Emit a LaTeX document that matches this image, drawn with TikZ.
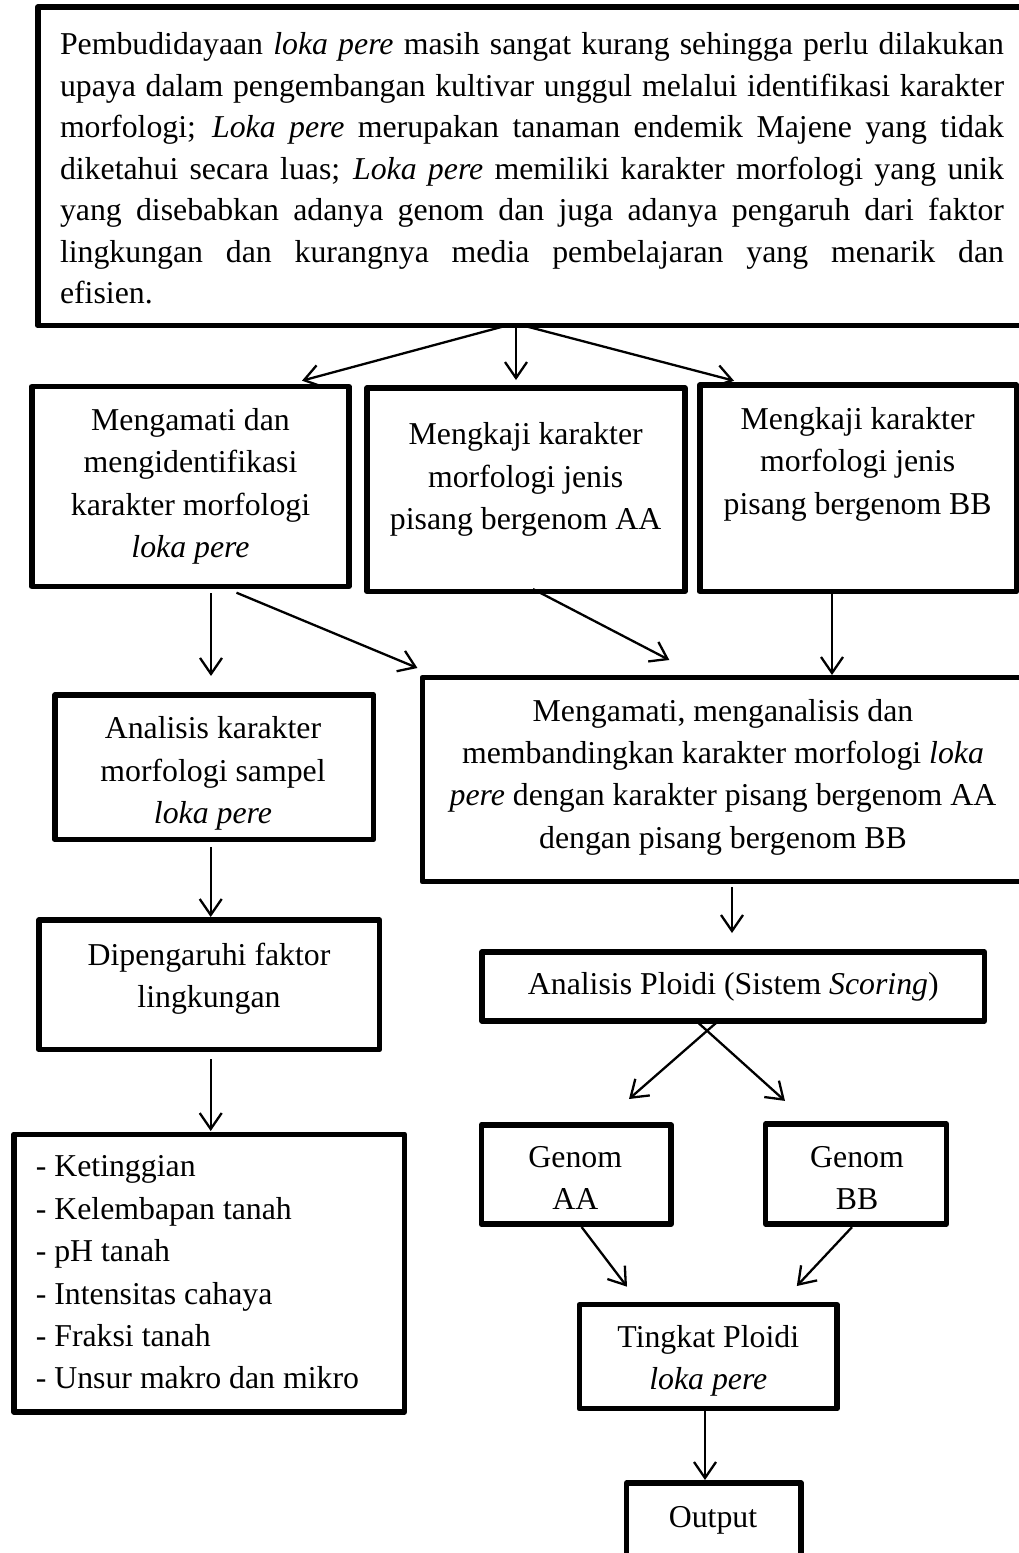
\documentclass[tikz,border=0pt]{standalone}
\usepackage{fontspec}
\setmainfont{Liberation Serif}
\usetikzlibrary{arrows.meta}
\begin{document}
\begin{tikzpicture}[x=1pt,y=-1pt,
  box/.style={draw, line width=5.5pt, line join=round, inner sep=0pt, outer sep=0pt},
  txt/.style={inner sep=0pt, align=center, font=\fontsize{31.8}{42.4}\selectfont},
  arr/.style={line width=2.3pt, -{Straight Barb[length=16pt,width=22pt]}}]
\useasboundingbox (0,0) rectangle (1019,1553);

% boxes
\node[box, minimum width=988.3pt, minimum height=318.5pt] (top) at (531.9,166.25) {};
\node[box, minimum width=317.2pt, minimum height=199.6pt] (b1) at (190.4,486.5) {};
\node[box, minimum width=317.8pt, minimum height=203.3pt] (b2) at (525.9,489.7) {};
\node[box, minimum width=316.9pt, minimum height=206.3pt] (b3) at (858.2,488.2) {};
\node[box, minimum width=318.6pt, minimum height=144.7pt] (c1) at (214.3,767.3) {};
\node[box, minimum width=602.7pt, minimum height=204.2pt] (c2) at (723.6,779.6) {};
\node[box, minimum width=340.5pt, minimum height=129.7pt] (d1) at (209.25,984.85) {};
\node[box, minimum width=502.4pt, minimum height=68.8pt] (d2) at (733.2,986.4) {};
\node[box, minimum width=189.9pt, minimum height=99.2pt] (e1) at (576.25,1174.6) {};
\node[box, minimum width=180.8pt, minimum height=100pt] (e2) at (856,1174.1) {};
\node[box, minimum width=257.7pt, minimum height=104pt] (f) at (708.15,1356.7) {};
\node[box, minimum width=174.3pt, minimum height=117pt] (g) at (713.85,1541.5) {};
\node[box, minimum width=390.6pt, minimum height=277.5pt] (h) at (209.2,1273) {};

% texts
\node[txt, text width=944pt, align=justify, font=\fontsize{31.8}{41.5}\selectfont] (t0) at (532,168.5)
{\tolerance=10000 \hyphenpenalty=10000 Pembudidayaan \textit{loka pere} masih sangat kurang sehingga perlu dilakukan\linebreak
upaya dalam pengembangan kultivar unggul melalui identifikasi karakter\linebreak
morfologi; \textit{Loka pere} merupakan tanaman endemik Majene yang tidak\linebreak
diketahui secara luas; \textit{Loka pere} memiliki karakter morfologi yang unik\linebreak
yang disebabkan adanya genom dan juga adanya pengaruh dari faktor\linebreak
lingkungan dan kurangnya media pembelajaran yang menarik dan\linebreak
efisien.};
\node[txt] (t1) at (190.5,486.5) {Mengamati dan\\mengidentifikasi\\karakter morfologi\\\textit{loka pere}};
\node[txt] (t2) at (525.7,479.5) {Mengkaji karakter\\morfologi jenis\\pisang bergenom AA};
\node[txt] (t3) at (857.7,464) {Mengkaji karakter\\morfologi jenis\\pisang bergenom BB};
\node[txt] (t4) at (213,773.5) {Analisis karakter\\morfologi sampel\\\textit{loka pere}};
\node[txt] (t5) at (723,777) {Mengamati, menganalisis dan\\membandingkan karakter morfologi \textit{loka}\\\textit{pere} dengan karakter pisang bergenom AA\\dengan pisang bergenom BB};
\node[txt] (t6) at (209,978.5) {Dipengaruhi faktor\\lingkungan};
\node[txt] (t7) at (733.3,986.5) {Analisis Ploidi (Sistem \textit{Scoring})};
\node[txt] (t8) at (575.3,1178) {Genom\\AA};
\node[txt] (t9) at (857,1178) {Genom\\BB};
\node[txt] (t10) at (708.3,1361) {Tingkat Ploidi\\\textit{loka pere}};
\node[txt] (t11) at (713,1520.5) {Output};
\node[txt, align=left, anchor=west] (t12) at (35.6,1272.5) {- Ketinggian\\- Kelembapan tanah\\- pH tanah\\- Intensitas cahaya\\- Fraksi tanah\\- Unsur makro dan mikro};

% connectors
\draw[arr] ([xshift=-25pt]top.south) -- ([xshift=111.6pt,yshift=6pt]b1.north);
\draw[arr] ([xshift=-15.9pt]top.south) -- ([xshift=-9.9pt,yshift=8pt]b2.north);
\draw[arr] ([xshift=-8.9pt]top.south) -- ([xshift=-124.2pt,yshift=4.3pt]b3.north);
\draw[arr] ([xshift=20.6pt,yshift=-6.7pt]b1.south) -- ([xshift=-3.3pt,yshift=19pt]c1.north);
\draw[arr] ([xshift=46.1pt,yshift=-6.4pt]b1.south) -- ([xshift=-4.8pt,yshift=9.5pt]c2.north west);
\draw[arr] ([xshift=7.1pt,yshift=2.3pt]b2.south) -- ([xshift=-54.3pt,yshift=17.5pt]c2.north);
\draw[arr] ([xshift=-26.2pt,yshift=-1.7pt]b3.south) -- ([xshift=108.4pt,yshift=2.5pt]c2.north);
\draw[arr] ([xshift=-3.6pt,yshift=-7.3pt]c1.south) -- ([xshift=1.45pt,yshift=3pt]d1.north);
\draw[arr] ([xshift=1.45pt,yshift=-9.3pt]d1.south) -- ([xshift=1.5pt,yshift=3.2pt]h.north);
\draw[arr] ([xshift=8.4pt,yshift=-5.3pt]c2.south) -- ([xshift=-1.2pt,yshift=19pt]d2.north);
\draw[arr] ([xshift=-14.7pt]d2.south) -- ([xshift=52.75pt,yshift=26pt]e1.north);
\draw[arr] ([xshift=-37.2pt]d2.south) -- ([xshift=-71pt,yshift=23.2pt]e2.north);
\draw[arr] ([xshift=5.35pt,yshift=-2.8pt]e1.south) -- ([xshift=-81.15pt,yshift=18pt]f.north);
\draw[arr] ([xshift=-4pt,yshift=-3pt]e2.south) -- ([xshift=88.65pt,yshift=18.7pt]f.north);
\draw[arr] ([xshift=-3.15pt]f.south) -- ([xshift=-8.85pt,yshift=3pt]g.north);
\end{tikzpicture}
\end{document}
